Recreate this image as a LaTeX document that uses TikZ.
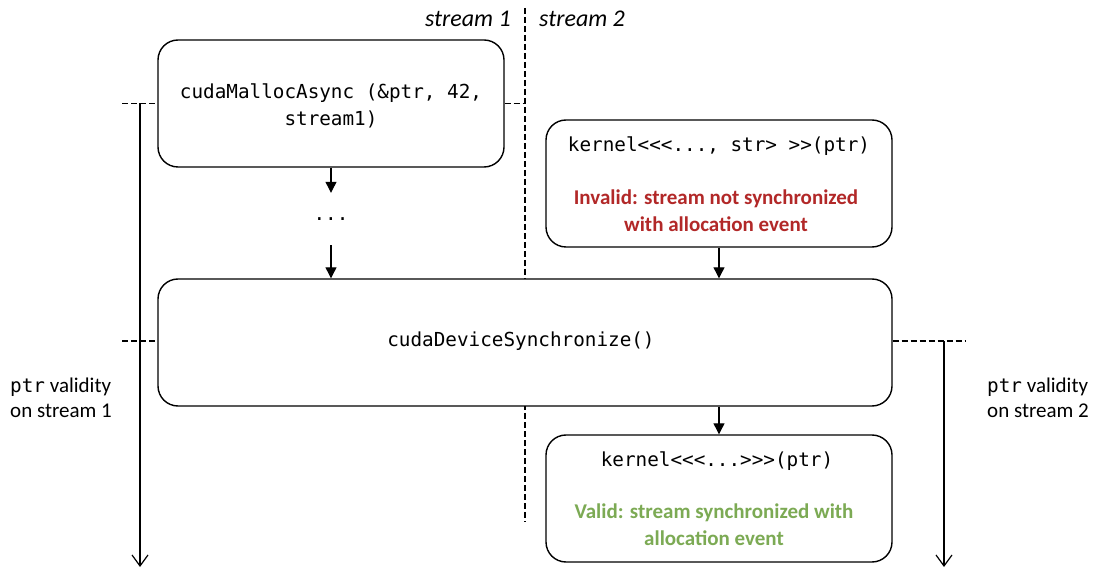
\documentclass[tikz,border=0pt]{standalone}
\usepackage{fontspec}
\setmainfont{Carlito}
\setmonofont{DejaVu Sans Mono}
\usetikzlibrary{arrows.meta}
\definecolor{badred}{RGB}{178,40,40}
\definecolor{goodgreen}{RGB}{124,170,84}
\tikzset{
  box/.style={draw, fill=white, line width=1.4pt, rounded corners=20pt, minimum width=346pt, minimum height=127pt, inner sep=0pt},
  codetxt/.style={font=\ttfamily\fontsize{19.3}{27}\selectfont, align=center, inner sep=0pt},
  sanstxt/.style={font=\fontsize{21}{25}\selectfont, inner sep=0pt},
  badtxt/.style={font=\bfseries\fontsize{21}{27}\selectfont, text=badred, align=center, inner sep=0pt},
  goodtxt/.style={font=\bfseries\fontsize{21}{27}\selectfont, text=goodgreen, align=center, inner sep=0pt},
  sep/.style={line width=1.5pt, dash pattern=on 6pt off 3pt},
  flow/.style={line width=1.2pt, -{Triangle[length=11pt,width=11pt]}},
  valid/.style={line width=1.2pt, -{Straight Barb[length=11pt,width=16pt]}},
}
\begin{document}
\begin{tikzpicture}[x=1pt,y=-1pt]
\useasboundingbox (0,0) rectangle (1101,569);
% coordinates
\coordinate (sepT) at (525,8);
\coordinate (sepB) at (525,522);
\coordinate (aL) at (122,103.5);
\coordinate (aR) at (525,103.5);
\coordinate (cL) at (122,341);
\coordinate (cR) at (966,341);
\coordinate (l0) at (140,103.5);
\coordinate (l1) at (140,567);
\coordinate (r0) at (944,341);
\coordinate (r1) at (944,567);
% stream separator (behind the boxes)
\draw[sep] (sepT) -- (sepB);
% boxes
\node[box] (A) at (331,103.5) {};
\node[box] (B) at (719,183.5) {};
\node[box, minimum width=734pt] (C) at (525,342.5) {};
\node[box] (D) at (719,498.5) {};
% box texts
\node[codetxt] (At) at (331,106) {cudaMallocAsync (\&ptr, 42,\\stream1)};
\node[codetxt] (Bt) at (719,146) {kernel<<<..., str> >>(ptr)};
\node[badtxt] (Bb) at (716,210.5) {Invalid: stream not synchronized\\with allocation event};
\node[codetxt] (Ct) at (521,341) {cudaDeviceSynchronize()};
\node[codetxt] (Dt) at (717,461) {kernel<<<...>>>(ptr)};
\node[goodtxt] (Db) at (714,524.5) {Valid: stream synchronized with\\allocation event};
% dots
\node[codetxt, minimum height=52pt] (dots) at (331,219) {...};
% stream labels
\node[sanstxt, font=\itshape\fontsize{24}{28}\selectfont, anchor=east] (s1) at (511,19) {stream 1};
\node[sanstxt, font=\itshape\fontsize{24}{28}\selectfont, anchor=west] (s2) at (539,19) {stream 2};
% validity labels
\node[sanstxt, align=left, anchor=west] (v1) at (10,397.5) {\texttt{\fontsize{19.3}{25}\selectfont ptr} validity\\on stream 1};
\node[sanstxt, align=left, anchor=west] (v2) at (987,397.5) {\texttt{\fontsize{19.3}{25}\selectfont ptr} validity\\on stream 2};
% dashed markers
\draw[sep] (aL) -- (A.west);
\draw[sep] (A.east) -- (aR);
\draw[sep] (cL) -- (C.west |- cL);
\draw[sep] (C.east |- cR) -- (cR);
% validity arrows
\draw[valid] (l0) -- (l1);
\draw[valid] (r0) -- (r1);
% flow arrows
\draw[flow] (A.south) -- (dots.north);
\draw[flow] (dots.south) -- (C.north -| dots.south);
\draw[flow] (B.south) -- (C.north -| B.south);
\draw[flow] (C.south -| D.north) -- (D.north);
\end{tikzpicture}
\end{document}
